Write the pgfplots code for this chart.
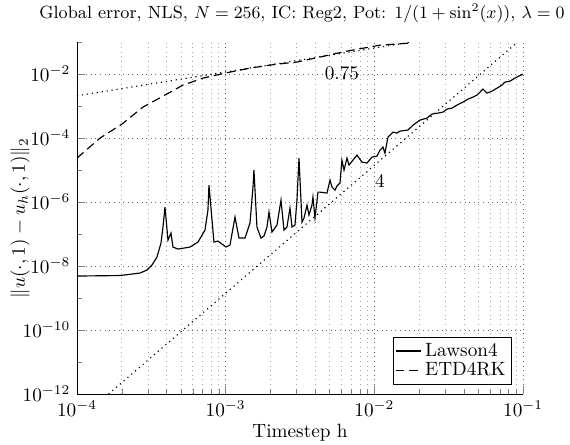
\documentclass[border=0pt]{standalone}
\usepackage{pgfplots}
\pgfplotsset{compat=1.18}
\begin{document}
\begin{tikzpicture}
\useasboundingbox (-40.04pt,-26.5pt) rectangle (256.4pt,204.9pt);
\begin{axis}[
  at={(0pt,0pt)}, anchor=south west,
  scale only axis, width=232pt, height=183pt,
  xmode=log, ymode=log,
  xmin=1e-4, xmax=1e-1, ymin=1e-12, ymax=1e-1,
  axis x line*=bottom, axis y line*=left,
  tick align=inside,
  xtick={1e-4,1e-3,1e-2,1e-1},
  ytick={1e-12,1e-10,1e-8,1e-6,1e-4,1e-2},
  minor ytick={1e-11,1e-9,1e-7,1e-5,1e-3,1e-1},
  xmajorgrids, xminorgrids, ymajorgrids, yminorgrids=false,
  major grid style={dotted, gray!80!black},
  minor grid style={dotted, gray!70},
  title={Global error, NLS, $N = 256$, IC: Reg2, Pot: $1/(1+\sin^2(x))$, $\lambda = 0$},
  title style={at={(axis description cs:0.5,1)}, anchor=center, yshift=9pt, xshift=1pt, font=\fontsize{9.2}{11}\selectfont},
  xlabel={Timestep h},
  xlabel style={at={(axis description cs:0.5,0)}, anchor=center, yshift=-20.3pt},
  ylabel={$\|u(\cdot,1) - u_h(\cdot,1)\|_2$},
  ylabel style={at={(axis description cs:0,0.5)}, anchor=center, yshift=29.6pt},
  legend style={at={(0.975,0.025)}, anchor=south east, inner sep=1pt, row sep=-2pt, draw=black, line width=0.6pt},
  legend cell align=left,
  legend image code/.code={\draw[#1] (0pt,0pt) -- (13pt,0pt);},
]
\addplot[black, line width=0.6pt] coordinates {
(1e-4,4.87e-9) (1.946e-4,5.05e-9) (2.653e-4,6.04e-9) (2.956e-4,7.50e-9)
(3.194e-4,1.074e-8) (3.451e-4,1.91e-8) (3.673e-4,5.23e-8) (3.787e-4,1.655e-7)
(3.906e-4,6.98e-7) (4.093e-4,6.49e-8) (4.288e-4,1.074e-7) (4.42e-4,3.92e-8)
(4.78e-4,3.40e-8) (5.75e-4,3.92e-8) (6.51e-4,5.62e-8) (7.26e-4,1.334e-7)
(7.60e-4,5.62e-7) (7.72e-4,3.40e-6) (8.34e-4,5.62e-8) (8.87e-4,6.04e-8)
(1.005e-3,3.92e-8) (1.069e-3,4.53e-8) (1.155e-3,3.40e-7) (1.229e-3,7.50e-8)
(1.349e-3,7.50e-8) (1.457e-3,2.21e-7) (1.526e-3,2.94e-6) (1.549e-3,1.0e-5)
(1.623e-3,1.655e-7) (1.728e-3,7.50e-8) (1.81e-3,8.66e-8) (1.896e-3,1.655e-7)
(1.955e-3,4.87e-7) (2.048e-3,1.155e-7) (2.213e-3,1.91e-7) (2.355e-3,1.155e-6)
(2.466e-3,1.334e-7) (2.583e-3,1.655e-7) (2.706e-3,6.49e-7) (2.792e-3,1.655e-7)
(2.924e-3,1.91e-7) (3.016e-3,1.155e-6) (3.112e-3,2.37e-5) (3.26e-3,2.37e-7)
(3.363e-3,3.16e-7) (3.523e-3,8.05e-7) (3.633e-3,3.92e-7) (3.805e-3,8.05e-7)
(3.864e-3,1.43e-6) (3.986e-3,3.16e-7) (4.176e-3,2.05e-6) (4.305e-3,2.05e-6)
(4.80e-3,1.91e-6) (5.03e-3,4.87e-6) (5.19e-3,2.94e-6) (5.43e-3,2.37e-6)
(5.60e-3,3.16e-6) (5.87e-3,3.92e-6) (6.05e-3,2.05e-5) (6.25e-3,1.0e-5)
(6.54e-3,2.37e-5) (6.75e-3,1.43e-5) (7.18e-3,2.05e-5) (7.64e-3,2.94e-5)
(8.25e-3,1.778e-5) (8.91e-3,1.655e-5) (9.64e-3,2.55e-5) (1.041e-2,2.74e-5)
(1.091e-2,4.22e-5) (1.142e-2,5.23e-5) (1.178e-2,3.40e-5) (1.234e-2,1.074e-4)
(1.274e-2,1.24e-4) (1.334e-2,1.54e-4) (1.419e-2,1.43e-4) (1.486e-2,1.655e-4)
(1.682e-2,1.778e-4) (1.818e-2,2.55e-4) (2.026e-2,3.65e-4) (2.258e-2,4.22e-4)
(2.44e-2,5.62e-4) (2.677e-2,6.04e-4) (2.893e-2,6.49e-4) (3.077e-2,8.05e-4)
(3.325e-2,8.66e-4) (3.594e-2,1.074e-3) (3.942e-2,1.334e-3) (4.26e-2,1.655e-3)
(4.60e-2,1.91e-3) (4.90e-2,2.21e-3) (5.37e-2,3.40e-3) (5.72e-2,2.55e-3)
(6.18e-2,2.94e-3) (6.68e-2,3.65e-3) (7.21e-2,4.53e-3) (7.55e-2,5.62e-3)
(8.17e-2,6.04e-3) (8.82e-2,7.50e-3) (9.68e-2,9.31e-3) (1e-1,1.0e-2)
};
\addlegendentry{Lawson4}
\addplot[black, line width=0.6pt, dash pattern={on 4.5pt off 2.5pt}] coordinates {
(1e-4,2.37e-5) (1.428e-4,1.0e-4) (2.007e-4,2.74e-4) (2.778e-4,9.31e-4)
(3.906e-4,2.21e-3) (5.16e-4,4.53e-3) (7.04e-4,7.50e-3) (9.89e-4,1.074e-2)
(1.457e-3,1.54e-2) (2.213e-3,2.05e-2) (3.0e-3,2.37e-2) (6.54e-3,5.23e-2)
(1.091e-2,8.05e-2) (1.734e-2,9.31e-2)
};
\addlegendentry{ETD4RK}
\addplot[black, line width=0.6pt, dotted, forget plot] coordinates {(1e-4,2.1e-3) (1.73e-2,0.098)};
\addplot[black, line width=0.6pt, dotted, forget plot] coordinates {(1.631e-4,1e-12) (9.173e-2,1e-1)};
\node at (axis cs:6.05e-3,1.07e-2) {$0.75$};
\node at (axis cs:1.091e-2,4.53e-6) {$4$};
\end{axis}
\end{tikzpicture}
\end{document}
